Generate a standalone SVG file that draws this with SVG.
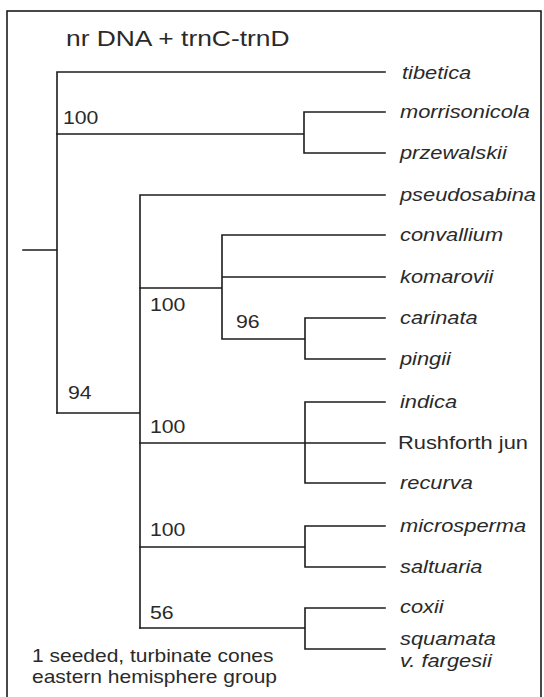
<svg xmlns="http://www.w3.org/2000/svg" width="544" height="697" viewBox="0 0 544 697">
<style>
.ln{fill:none;stroke:#1c1c1c;stroke-width:1.6;stroke-linecap:square}
.tx{font-family:"Liberation Sans",Arial,sans-serif;fill:#2a2a2a}
.it{font-style:italic;font-size:19px}
.rm{font-size:19px}
.bs{font-size:19px}
.ti{font-size:22px}
.nt{font-size:17.5px}
</style>
<rect x="0" y="0" width="544" height="697" fill="#ffffff"/>
<rect id="frame" x="7" y="11" width="534" height="700" fill="none" stroke="#1c1c1c" stroke-width="1.6"/>
<g id="title"><text class="tx ti" transform="scale(1.2 1)" x="55" y="46">nr DNA + trnC-trnD</text></g>
<g id="connectors" class="ln">
<path d="M23,250 H57 M57,72 V413 M57,72 H385"/>
<path d="M57,134 H304 M304,112 V153 M304,112 H385 M304,153 H385"/>
<path d="M57,413 H140 M140,195 V628 M140,195 H385"/>
<path d="M140,288 H222 M222,235 V339 M222,235 H385 M222,277 H385 M222,339 H305 M305,318 V359 M305,318 H385 M305,359 H385"/>
<path d="M140,443 H385 M305,402 V483 M305,402 H385 M305,483 H385"/>
<path d="M140,547 H305 M305,526 V567 M305,526 H385 M305,567 H385"/>
<path d="M140,628 H305 M305,608 V649 M305,608 H385 M305,649 H385"/>
</g>
<g id="taxon-tibetica"><text class="tx it" transform="scale(1.15 1)" x="349.6" y="79">tibetica</text></g>
<g id="taxon-morrisonicola"><text class="tx it" transform="scale(1.15 1)" x="347.8" y="118">morrisonicola</text></g>
<g id="taxon-przewalskii"><text class="tx it" transform="scale(1.15 1)" x="347.8" y="159">przewalskii</text></g>
<g id="taxon-pseudosabina"><text class="tx it" transform="scale(1.15 1)" x="347.8" y="201">pseudosabina</text></g>
<g id="taxon-convallium"><text class="tx it" transform="scale(1.15 1)" x="347.8" y="241">convallium</text></g>
<g id="taxon-komarovii"><text class="tx it" transform="scale(1.15 1)" x="347.8" y="283">komarovii</text></g>
<g id="taxon-carinata"><text class="tx it" transform="scale(1.15 1)" x="347.8" y="324">carinata</text></g>
<g id="taxon-pingii"><text class="tx it" transform="scale(1.15 1)" x="347.8" y="365">pingii</text></g>
<g id="taxon-indica"><text class="tx it" transform="scale(1.15 1)" x="347.8" y="408">indica</text></g>
<g id="taxon-rushforth"><text class="tx rm" transform="scale(1.15 1)" x="346.1" y="449">Rushforth jun</text></g>
<g id="taxon-recurva"><text class="tx it" transform="scale(1.15 1)" x="347.8" y="489">recurva</text></g>
<g id="taxon-microsperma"><text class="tx it" transform="scale(1.15 1)" x="347.8" y="532">microsperma</text></g>
<g id="taxon-saltuaria"><text class="tx it" transform="scale(1.15 1)" x="347.8" y="573">saltuaria</text></g>
<g id="taxon-coxii"><text class="tx it" transform="scale(1.15 1)" x="347.8" y="613">coxii</text></g>
<g id="taxon-squamata"><text class="tx it" transform="scale(1.15 1)" x="347.8" y="645">squamata</text><text class="tx it" transform="scale(1.15 1)" x="347.8" y="667">v. fargesii</text></g>
<g id="support-1"><text class="tx bs" transform="scale(1.12 1)" x="56.2" y="124">100</text></g>
<g id="support-2"><text class="tx bs" transform="scale(1.12 1)" x="60.7" y="399">94</text></g>
<g id="support-3"><text class="tx bs" transform="scale(1.12 1)" x="133.9" y="311">100</text></g>
<g id="support-4"><text class="tx bs" transform="scale(1.12 1)" x="210.7" y="328">96</text></g>
<g id="support-5"><text class="tx bs" transform="scale(1.12 1)" x="133.9" y="433">100</text></g>
<g id="support-6"><text class="tx bs" transform="scale(1.12 1)" x="133.9" y="536">100</text></g>
<g id="support-7"><text class="tx bs" transform="scale(1.12 1)" x="133.9" y="619">56</text></g>
<g id="note"><text class="tx nt" transform="scale(1.2 1)" x="26.7" y="662">1 seeded, turbinate cones</text><text class="tx nt" transform="scale(1.2 1)" x="26.7" y="683">eastern hemisphere group</text></g>
</svg>
